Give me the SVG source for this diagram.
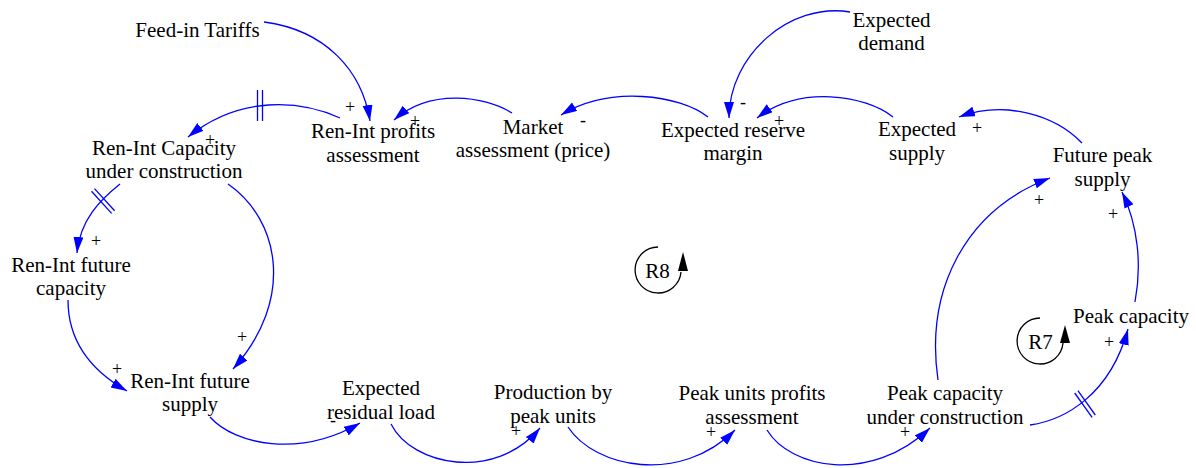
<svg xmlns="http://www.w3.org/2000/svg" width="1196" height="468" viewBox="0 0 1196 468">
<style>
.lbl{font-family:'Liberation Serif','DejaVu Serif',serif;font-size:21px;fill:#000;text-anchor:middle}
.pol{font-family:'Liberation Serif','DejaVu Serif',serif;font-size:18px;fill:#000;text-anchor:middle}
.lnk{fill:none;stroke:#0000FF;stroke-width:1.3;marker-end:url(#ah)}
.hash{stroke:#0000FF;stroke-width:1.3}
.loop{fill:none;stroke:#000;stroke-width:1.3}
</style>
<defs>
<marker id="ah" markerUnits="userSpaceOnUse" markerWidth="18" markerHeight="12" refX="16" refY="5" orient="auto">
<path d="M0,0 L16,5 L0,10 z" fill="#0000FF"/>
</marker>
</defs>
<rect width="1196" height="468" fill="#fff"/>
<g id="connectors">
<path class="lnk" d="M264,22 C325,30 362,70 370,121"/>
<path class="lnk" d="M512,113 C485,96 430,88 394,120"/>
<path class="lnk" d="M340,118 C300,100 240,95 188,137"/>
<line class="hash" x1="257.5" y1="90" x2="257.5" y2="121"/>
<line class="hash" x1="262.5" y1="90" x2="262.5" y2="121"/>
<path class="lnk" d="M708,117 C680,95 610,85 561,115"/>
<path class="lnk" d="M850,12 C790,2 729,55 729,118"/>
<path class="lnk" d="M893,117 C865,95 800,85 757,118"/>
<path class="lnk" d="M1082,143 C1055,115 1005,100 959,117"/>
<path class="lnk" d="M938,380 C925,290 965,210 1050,178"/>
<path class="lnk" d="M1135,302 C1142,265 1138,225 1122,192"/>
<path class="lnk" d="M1030,425 C1065,420 1110,395 1128,329"/>
<line class="hash" x1="1074.7" y1="393" x2="1092.1" y2="417.4"/>
<line class="hash" x1="1077.9" y1="390.6" x2="1095.3" y2="415"/>
<path class="lnk" d="M767,430 C790,468 870,485 930,428"/>
<path class="lnk" d="M568,427 C595,468 680,485 735,430"/>
<path class="lnk" d="M391,424 C412,466 495,482 540,428"/>
<path class="lnk" d="M210,417 C235,445 300,458 360,423"/>
<path class="lnk" d="M120,184 C100,200 80,220 77,253"/>
<line class="hash" x1="91.5" y1="191.3" x2="111.6" y2="213.4"/>
<line class="hash" x1="94.5" y1="188.6" x2="114.6" y2="210.8"/>
<path class="lnk" d="M68,300 C68,340 90,370 127,391"/>
<path class="lnk" d="M228,184 C280,220 295,300 233,369"/>
</g>
<g id="polarities">
<text class="pol" x="350" y="113">+</text>
<text class="pol" x="415" y="127">+</text>
<text class="pol" x="210" y="146">+</text>
<text class="pol" x="583" y="126">-</text>
<text class="pol" x="743" y="108">-</text>
<text class="pol" x="779" y="127">+</text>
<text class="pol" x="977" y="134">+</text>
<text class="pol" x="1039" y="206">+</text>
<text class="pol" x="1113" y="220">+</text>
<text class="pol" x="1109" y="348">+</text>
<text class="pol" x="905" y="438">+</text>
<text class="pol" x="711" y="438">+</text>
<text class="pol" x="516" y="437">+</text>
<text class="pol" x="333" y="426">-</text>
<text class="pol" x="96" y="247">+</text>
<text class="pol" x="117" y="375">+</text>
<text class="pol" x="242" y="343">+</text>
</g>
<g id="feed-in-tariffs"><text class="lbl" x="197.5" y="37">Feed-in Tariffs</text></g>
<g id="ren-int-profits"><text class="lbl" x="373" y="138"><tspan x="373">Ren-Int profits</tspan><tspan x="373" y="161.5">assessment</tspan></text></g>
<g id="ren-int-capacity-uc"><text class="lbl" x="164" y="155"><tspan x="164">Ren-Int Capacity</tspan><tspan x="164" y="178">under construction</tspan></text></g>
<g id="market-assessment"><text class="lbl" x="533" y="133.5"><tspan x="533">Market</tspan><tspan x="533" y="157">assessment (price)</tspan></text></g>
<g id="expected-reserve-margin"><text class="lbl" x="733" y="137"><tspan x="733">Expected reserve</tspan><tspan x="733" y="160">margin</tspan></text></g>
<g id="expected-demand"><text class="lbl" x="891.5" y="26.5"><tspan x="891.5">Expected</tspan><tspan x="891.5" y="50">demand</tspan></text></g>
<g id="expected-supply"><text class="lbl" x="917" y="136"><tspan x="917">Expected</tspan><tspan x="917" y="160">supply</tspan></text></g>
<g id="future-peak-supply"><text class="lbl" x="1102.5" y="162"><tspan x="1102.5">Future peak</tspan><tspan x="1102.5" y="185.5">supply</tspan></text></g>
<g id="peak-capacity"><text class="lbl" x="1131" y="323">Peak capacity</text></g>
<g id="ren-int-future-capacity"><text class="lbl" x="71" y="272"><tspan x="71">Ren-Int future</tspan><tspan x="71" y="295">capacity</tspan></text></g>
<g id="ren-int-future-supply"><text class="lbl" x="190" y="387.5"><tspan x="190">Ren-Int future</tspan><tspan x="190" y="410.5">supply</tspan></text></g>
<g id="expected-residual-load"><text class="lbl" x="381" y="395"><tspan x="381">Expected</tspan><tspan x="381" y="419">residual load</tspan></text></g>
<g id="production-peak-units"><text class="lbl" x="553" y="399"><tspan x="553">Production by</tspan><tspan x="553" y="422.5">peak units</tspan></text></g>
<g id="peak-units-profits"><text class="lbl" x="752" y="400"><tspan x="752">Peak units profits</tspan><tspan x="752" y="423.5">assessment</tspan></text></g>
<g id="peak-capacity-uc"><text class="lbl" x="945" y="400"><tspan x="945">Peak capacity</tspan><tspan x="945" y="423.5">under construction</tspan></text></g>
<g id="loop-R8">
<path class="loop" d="M658,247 A23,23 0 1 0 681,272"/>
<polygon points="683,252 678,271 688,271" fill="#000"/>
<text class="lbl" x="657.5" y="278">R8</text>
</g>
<g id="loop-R7">
<path class="loop" d="M1040,318 A23,23 0 1 0 1063,343"/>
<polygon points="1065,325 1060,343 1070,343" fill="#000"/>
<text class="lbl" x="1040.5" y="349">R7</text>
</g>
</svg>
